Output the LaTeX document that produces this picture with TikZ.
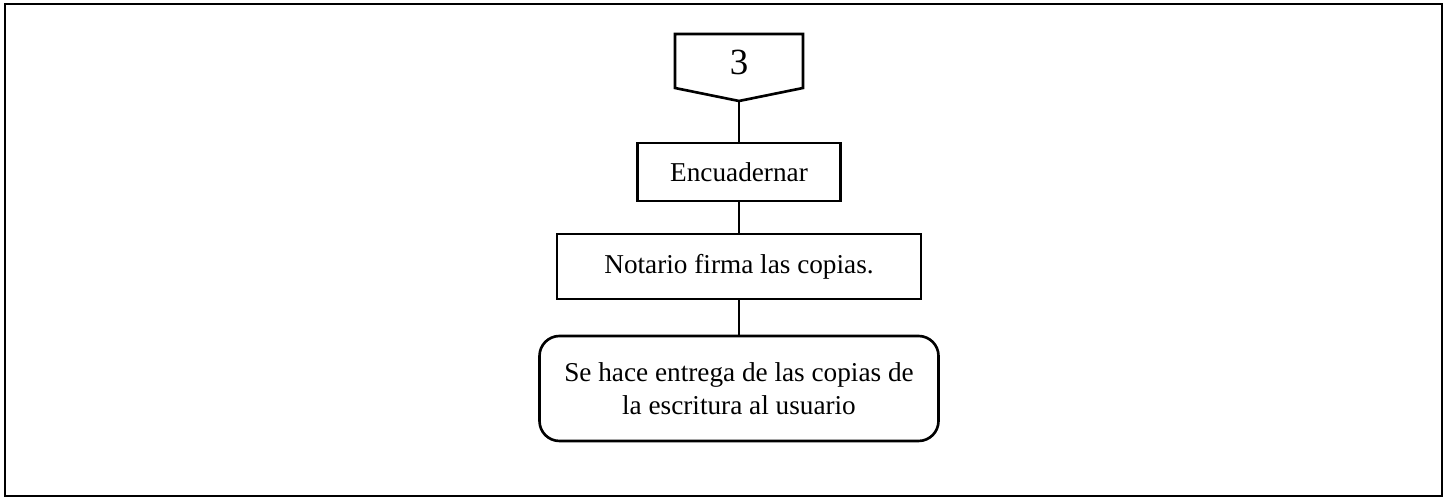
\documentclass[tikz,border=0pt]{standalone}
\usepackage{fontspec}
\setmainfont{Liberation Serif}
\usepackage{tikz}
\usetikzlibrary{positioning}

\begin{document}
\begin{tikzpicture}[
  stepbox/.style={draw, line width=1.5pt, minimum height=1.16cm,
    font=\fontsize{15.5}{18.5}\selectfont},
  endbox/.style={draw, line width=1.5pt, rounded corners=0.4cm,
    align=center, font=\fontsize{15.5}{18.5}\selectfont},
  link/.style={line width=0.6pt}
]

% Frame
\useasboundingbox (0,0) rectangle (29,-10);
\draw[line width=1.3pt] (0.1,-0.08) rectangle (28.84,-9.92);

% Off-page connector
\draw[line width=1.5pt] (13.50,-0.68) -- (16.06,-0.68) -- (16.06,-1.76)
  -- (14.78,-2.02) -- (13.50,-1.76) -- cycle;
\node[font=\fontsize{21}{24}\selectfont] (conn) at (14.78,-1.24) {3};
\coordinate (tip) at (14.78,-2.02);

% Steps
\node[stepbox, minimum width=4.06cm] (bind) at (14.78,-3.44) {Encuadernar};
\node[stepbox, minimum width=7.28cm, minimum height=1.30cm] (sign)
  at (14.78,-5.33) {Notario firma las copias.};
\node[endbox, minimum width=7.98cm, minimum height=2.10cm] (deliver)
  at (14.78,-7.77) {Se hace entrega de las copias de\\la escritura al usuario};

% Links
\draw[link] (tip) -- (bind.north);
\draw[link] (bind) -- (sign);
\draw[link] (sign) -- (deliver);

\end{tikzpicture}
\end{document}
